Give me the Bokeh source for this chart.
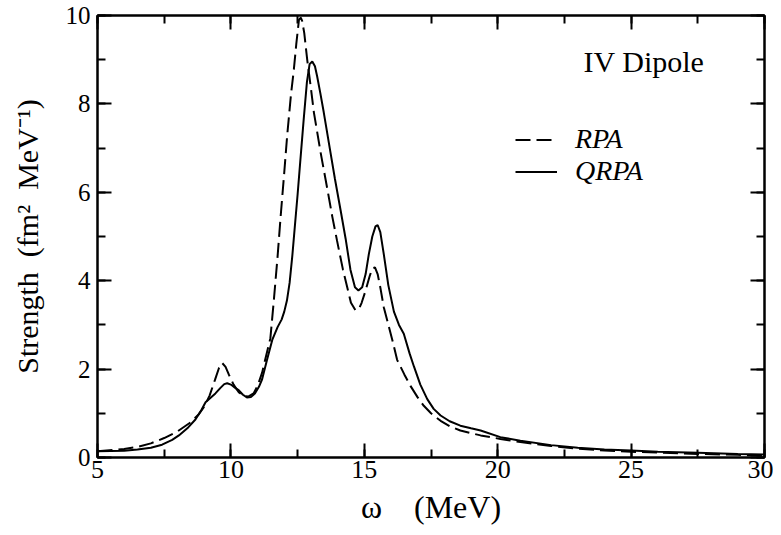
from bokeh.plotting import figure
from bokeh.models import (Range1d, LinearAxis, SingleIntervalTicker, Label,
                          Legend, LegendItem, CustomJSTickFormatter)
from bokeh.embed import file_html
from bokeh.resources import INLINE

# ---- data ----
rpa_x = [5.0, 6.0, 6.5, 7.0, 7.5, 8.0, 8.5, 8.8, 9.0, 9.2, 9.4, 9.55, 9.67, 9.8,
         9.92, 10.1, 10.3, 10.5, 10.65, 10.85, 11.0, 11.17, 11.3, 11.48, 11.61,
         11.75, 11.86, 12.0, 12.11, 12.25, 12.36, 12.45, 12.55, 12.62, 12.67,
         12.75, 12.86, 13.0, 13.11, 13.36, 13.61, 13.8, 13.98, 14.2, 14.36, 14.5,
         14.67, 14.8, 14.9, 15.05, 15.2, 15.3, 15.4, 15.5, 15.6, 15.73, 15.86,
         16.05, 16.23, 16.5, 16.73, 17.0, 17.23, 17.5, 17.86, 18.2, 18.6, 19.0,
         19.36, 20.1, 20.85, 22.0, 23.0, 24.0, 25.0, 26.0, 27.5, 29.0, 30.0]
rpa_y = [0.14, 0.19, 0.24, 0.32, 0.44, 0.59, 0.80, 0.98, 1.15, 1.40, 1.75, 2.02, 2.14, 2.05,
         1.88, 1.65, 1.47, 1.39, 1.38, 1.45, 1.62, 1.92, 2.25, 2.70, 3.56,
         4.55, 5.42, 6.45, 7.29, 8.2, 8.78, 9.35, 9.9, 9.95, 9.88,
         9.6, 9.0, 8.35, 7.81, 6.91, 6.09, 5.45, 4.9, 4.25, 3.85, 3.5,
         3.33, 3.36, 3.5, 3.78, 4.1, 4.28, 4.3, 4.15, 3.85, 3.4, 3.1,
         2.66, 2.21, 1.88, 1.62, 1.36, 1.17, 1.0, 0.83, 0.71, 0.61, 0.55,
         0.5, 0.42, 0.35, 0.26, 0.2, 0.16, 0.13, 0.11, 0.08, 0.06, 0.04]

qrpa_x = [5.0, 6.0, 6.5, 7.0, 7.42, 7.8, 8.05, 8.4, 8.67, 8.9, 9.05, 9.25, 9.42, 9.6,
          9.75, 9.86, 10.0, 10.15, 10.3, 10.45, 10.6, 10.75, 10.9, 11.05, 11.17,
          11.35, 11.55, 11.75, 11.9, 12.0, 12.1, 12.2, 12.3, 12.4, 12.5, 12.6, 12.73,
          12.85, 12.95, 13.05, 13.15, 13.23, 13.35, 13.48, 13.73, 13.9, 14.11, 14.3,
          14.48, 14.65, 14.78, 14.92, 15.05, 15.17, 15.3, 15.42, 15.5, 15.6, 15.73,
          15.9, 16.11, 16.3, 16.48, 16.7, 16.86, 17.1, 17.36, 17.6, 17.86, 18.2,
          18.6, 19.0, 19.36, 20.1, 20.85, 22.0, 23.0, 24.0, 25.0, 26.0, 27.5, 29.0, 30.0]
qrpa_y = [0.14, 0.15, 0.18, 0.22, 0.29, 0.4, 0.5, 0.68, 0.86, 1.08, 1.25, 1.36, 1.45, 1.57,
          1.66, 1.68, 1.65, 1.58, 1.52, 1.42, 1.36, 1.37, 1.45, 1.6, 1.77,
          2.2, 2.66, 2.95, 3.12, 3.3, 3.55, 3.95, 4.55, 5.25, 5.95, 6.7, 7.66,
          8.5, 8.9, 8.96, 8.85, 8.63, 8.25, 7.81, 6.91, 6.3, 5.6, 4.95,
          4.25, 3.85, 3.78, 3.85, 4.15, 4.6, 5.0, 5.23, 5.26, 5.1, 4.6,
          3.9, 3.3, 3.0, 2.8, 2.35, 2.06, 1.65, 1.32, 1.1, 0.95, 0.82,
          0.72, 0.66, 0.61, 0.46, 0.38, 0.28, 0.22, 0.18, 0.16, 0.13, 0.11, 0.08, 0.07]

series_labels = ["RPA", "QRPA"]
NB = "\u00a0"
x_label = "ω" + NB * 4 + "(MeV)"
y_label = "Strength" + NB * 2 + "(fm²" + NB * 2 + "MeV⁻¹)"
title_text = "IV Dipole"

FONT = "Liberation Serif"

p = figure(width=773, height=527, output_backend="svg", toolbar_location=None,
           x_range=Range1d(5, 30), y_range=Range1d(0, 10),
           min_border_left=97, min_border_right=9, min_border_top=15, min_border_bottom=68)
p.grid.visible = False
p.background_fill_color = "white"
p.border_fill_color = "white"
p.outline_line_color = "black"
p.outline_line_width = 2

r1 = p.line(rpa_x, rpa_y, line_color="black", line_width=2, line_dash="15 6")
r2 = p.line(qrpa_x, qrpa_y, line_color="black", line_width=2)

def style_axis(ax, show_labels=True, size="26px"):
    ax.axis_line_width = 2
    ax.axis_line_color = "black"
    ax.major_tick_in = 14
    ax.major_tick_out = 0
    ax.minor_tick_in = 8
    ax.minor_tick_out = 0
    ax.major_tick_line_width = 2
    ax.minor_tick_line_width = 2
    ax.major_label_text_font = FONT
    ax.major_label_text_font_size = size
    ax.major_label_text_color = "black"
    if not show_labels:
        ax.major_label_text_font_size = "0px"
        ax.major_label_standoff = 0
        ax.formatter = CustomJSTickFormatter(code="return ''")

p.xaxis.ticker = SingleIntervalTicker(interval=5, num_minor_ticks=2)
p.yaxis.ticker = SingleIntervalTicker(interval=2, num_minor_ticks=2)
style_axis(p.xaxis[0], size="26px")
style_axis(p.yaxis[0], size="25px")
p.xaxis.major_label_standoff = 3
p.yaxis.major_label_standoff = 7

p.xaxis.axis_label = x_label
p.yaxis.axis_label = y_label
for ax in (p.xaxis[0], p.yaxis[0]):
    ax.axis_label_text_font = FONT
    ax.axis_label_text_font_style = "normal"
    ax.axis_label_text_color = "black"
p.xaxis.axis_label_text_font_size = "32px"
p.yaxis.axis_label_text_font_size = "30px"
p.xaxis.axis_label_standoff = 8
p.yaxis.axis_label_standoff = 19

top = LinearAxis(ticker=SingleIntervalTicker(interval=5, num_minor_ticks=2))
right = LinearAxis(ticker=SingleIntervalTicker(interval=2, num_minor_ticks=2))
style_axis(top, show_labels=False)
style_axis(right, show_labels=False)
p.add_layout(top, "above")
p.add_layout(right, "right")

p.add_layout(Label(x=23.22, y=8.95, text=title_text, text_font=FONT,
                   text_font_size="30px", text_color="black",
                   text_baseline="alphabetic"))

legend = Legend(items=[LegendItem(label=series_labels[0], renderers=[r1]),
                       LegendItem(label=series_labels[1], renderers=[r2])],
                location=(418, 270), orientation="vertical")
legend.border_line_color = None
legend.background_fill_alpha = 0
legend.padding = 0
legend.margin = 0
legend.spacing = -7
legend.glyph_width = 42
legend.glyph_height = 29
legend.label_height = 29
legend.label_standoff = 18
legend.label_text_font = FONT
legend.label_text_font_style = "italic"
legend.label_text_font_size = "28px"
legend.label_text_color = "black"
legend.label_text_line_height = 1.0
p.add_layout(legend, "center")

open("out.html", "w").write(file_html(p, INLINE))
